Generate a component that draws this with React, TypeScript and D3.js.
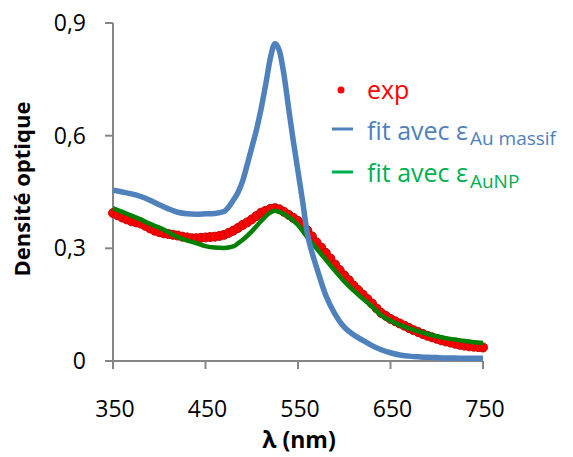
import React from "react";
import * as d3 from "d3";

const xTicks = [350, 450, 550, 650, 750];
const yTicks = [0, 0.3, 0.6, 0.9];
const yTickLabels = ["0", "0,3", "0,6", "0,9"];

const blueLambda = [350,360,370,380,390,400,410,420,430,440,450,460,470,475,480,485,490,495,500,505,510,515,520,525,530,535,540,545,550,555,560,565,570,580,590,600,610,620,630,640,650,660,670,680,690,700,710,720,730,740,750];
const blueValues = [0.455,0.450,0.445,0.438,0.428,0.416,0.405,0.396,0.392,0.391,0.392,0.393,0.398,0.410,0.428,0.448,0.478,0.522,0.568,0.615,0.670,0.735,0.805,0.845,0.825,0.760,0.670,0.585,0.505,0.425,0.340,0.290,0.250,0.175,0.125,0.090,0.070,0.055,0.041,0.030,0.022,0.016,0.013,0.011,0.010,0.009,0.008,0.008,0.007,0.007,0.007];

const greenLambda = [350,360,370,380,390,400,410,420,430,440,450,460,470,480,485,490,500,510,520,525,530,540,550,560,570,580,590,600,610,620,630,640,650,660,670,680,690,700,710,720,730,740,750];
const greenValues = [0.407,0.397,0.387,0.377,0.365,0.355,0.343,0.330,0.321,0.314,0.306,0.302,0.301,0.305,0.313,0.322,0.345,0.372,0.395,0.400,0.397,0.383,0.362,0.330,0.300,0.270,0.240,0.212,0.188,0.166,0.145,0.122,0.107,0.096,0.087,0.079,0.072,0.066,0.061,0.057,0.053,0.050,0.048];

const expLambda = [350,355,360,365,370,375,380,385,390,395,400,405,410,415,420,425,430,435,440,445,450,455,460,465,470,475,480,485,490,495,500,505,510,515,520,525,530,535,540,545,550,555,560,565,570,575,580,585,590,595,600,605,610,615,620,625,630,635,640,645,650,655,660,665,670,675,680,685,690,695,700,705,710,715,720,725,730,735,740,745,750];
const expValues = [0.394,0.388,0.382,0.377,0.372,0.369,0.366,0.360,0.353,0.347,0.343,0.340,0.338,0.336,0.334,0.331,0.329,0.327,0.327,0.328,0.329,0.330,0.331,0.333,0.336,0.341,0.347,0.354,0.362,0.369,0.377,0.386,0.395,0.400,0.405,0.407,0.404,0.397,0.389,0.381,0.373,0.362,0.348,0.332,0.316,0.302,0.288,0.273,0.257,0.242,0.228,0.215,0.201,0.189,0.177,0.165,0.153,0.140,0.128,0.120,0.112,0.106,0.100,0.094,0.088,0.082,0.077,0.072,0.067,0.063,0.059,0.055,0.052,0.049,0.046,0.043,0.041,0.039,0.038,0.037,0.036];

const FONT = "'Open Sans', sans-serif";

export default function App() {
  const x = d3.scaleLinear().domain([350, 750]).range([113, 483]);
  const y = d3.scaleLinear().domain([0, 0.9]).range([361, 23]);

  const line = d3
    .line<[number, number]>()
    .x((d) => x(d[0]))
    .y((d) => y(d[1]))
    .curve(d3.curveMonotoneX);

  const blueData = blueLambda.map((l, i) => [l, blueValues[i]] as [number, number]);
  const greenData = greenLambda.map((l, i) => [l, greenValues[i]] as [number, number]);
  const expData = expLambda.map((l, i) => [l, expValues[i]] as [number, number]);

  const axisColor = "#868686";

  return (
    <svg
      width={573}
      height={457}
      style={{ position: "absolute", left: 0, top: 0, background: "#fff" }}
      fontFamily={FONT}
    >
      {/* axes */}
      <line x1={x(350)} x2={x(350)} y1={y(0.9)} y2={y(0)} stroke={axisColor} strokeWidth={2} />
      <line x1={x(350)} x2={x(750)} y1={y(0)} y2={y(0)} stroke={axisColor} strokeWidth={2} />
      {yTicks.map((t, i) => (
        <g key={"y" + t}>
          <line x1={x(350) - 8} x2={x(350)} y1={y(t)} y2={y(t)} stroke={axisColor} strokeWidth={2} />
          <text x={86} y={y(t) + 8} textAnchor="end" fontSize={23} fill="#000">
            {yTickLabels[i]}
          </text>
        </g>
      ))}
      {xTicks.map((t) => (
        <g key={"x" + t}>
          <line x1={x(t)} x2={x(t)} y1={y(0)} y2={y(0) + 8} stroke={axisColor} strokeWidth={2} />
          <text x={x(t) + 2} y={417} textAnchor="middle" fontSize={23} fill="#000">
            {t}
          </text>
        </g>
      ))}

      {/* exp markers */}
      {expData.map((d, i) => (
        <circle key={"e" + i} cx={x(d[0])} cy={y(d[1])} r={4.5} fill="#FF0000" stroke="#C00000" strokeWidth={1} />
      ))}
      {/* green fit */}
      <path d={line(greenData) || ""} fill="none" stroke="#008000" strokeWidth={4.5} />
      {/* blue fit */}
      <path d={line(blueData) || ""} fill="none" stroke="#4F81BD" strokeWidth={5.5} />

      {/* axis titles */}
      <text
        transform={`translate(30, 189) rotate(-90)`}
        textAnchor="middle"
        fontSize={22}
        fontWeight="bold"
        fill="#000"
      >
        Densité optique
      </text>
      <text x={299} y={448} textAnchor="middle" fontSize={23} fontWeight="bold" fill="#000">
        λ (nm)
      </text>

      {/* legend */}
      <circle cx={341} cy={90} r={3.5} fill="#FF0000" />
      <text x={367} y={99} fontSize={25} fill="#FF0000">exp</text>

      <line x1={332} x2={353} y1={129} y2={129} stroke="#4F81BD" strokeWidth={3} />
      <text x={367} y={140} fontSize={25} fill="#4F81BD">
        fit avec ε
        <tspan fontSize={19} dy={5} dx={2}>Au massif</tspan>
      </text>

      <line x1={332} x2={353} y1={172} y2={172} stroke="#00B050" strokeWidth={3} />
      <text x={367} y={182} fontSize={25} fill="#00B050">
        fit avec ε
        <tspan fontSize={19} dy={6} dx={2}>AuNP</tspan>
      </text>
    </svg>
  );
}
